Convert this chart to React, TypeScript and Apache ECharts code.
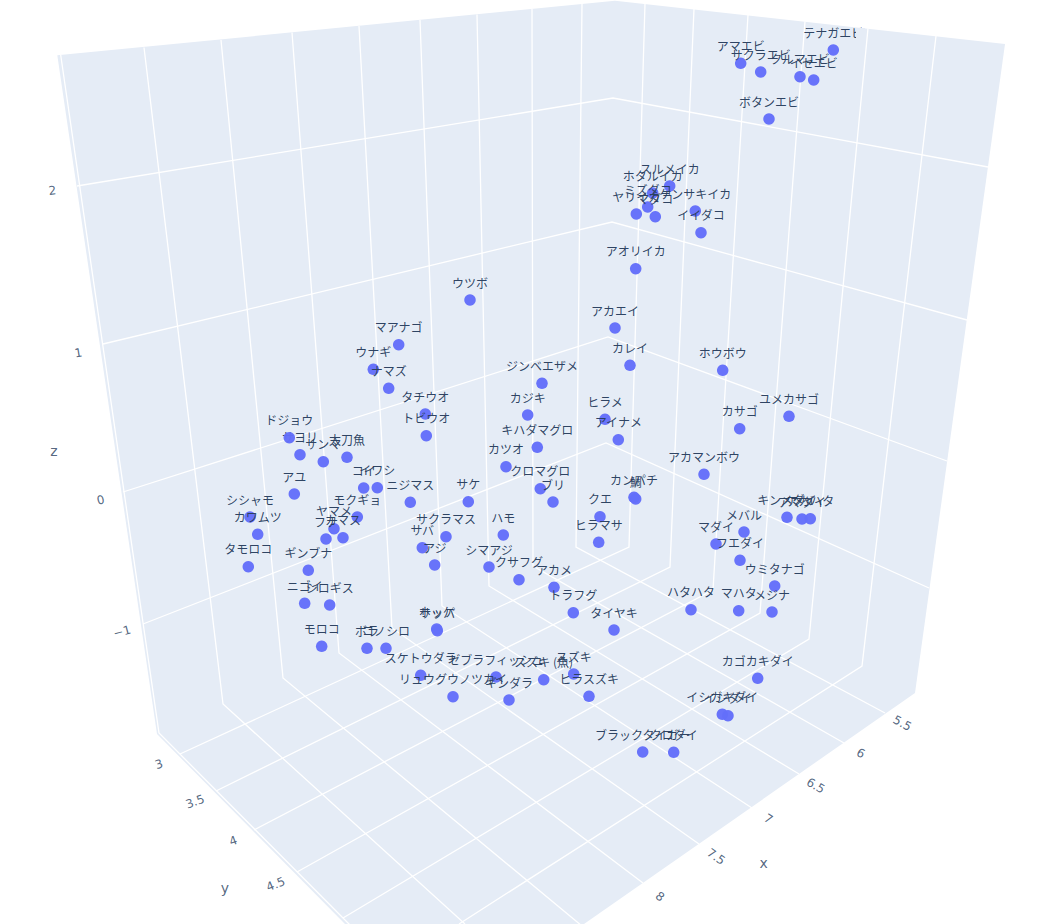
import React, { useEffect, useRef } from "react";
import * as echarts from "echarts";

// Values are the projected (screen-plane) positions.
const fishNames = [
  "テナガエビ", "アマエビ", "サクラエビ", "クルマエビ", "イセエビ", "ボタンエビ",
  "スルメイカ", "ホタルイカ", "ミズダコ", "ヤリイカ", "マダコ", "ケンサキイカ", "イイダコ", "アオリイカ",
  "アカエイ", "カレイ", "ホウボウ", "ジンベエザメ", "ウツボ", "マアナゴ", "ウナギ", "ナマズ", "タチウオ", "トビウオ",
  "ドジョウ", "サヨリ", "サンマ", "太刀魚", "アユ", "コイ", "イワシ", "ニジマス", "サケ", "モクギョ",
  "シシャモ", "カワムツ", "ヤマメ", "フナ", "カマス", "タモロコ", "ギンブナ", "ニゴイ", "シロギス",
  "サクラマス", "サバ", "アジ", "ハモ", "シマアジ", "カツオ", "カジキ", "キハダマグロ", "クロマグロ", "ブリ",
  "ヒラメ", "アイナメ", "カンパチ", "鯛", "クエ", "ヒラマサ", "アカマンボウ", "カサゴ", "ユメカサゴ",
  "キンメダイ", "アマダイ", "アカハタ", "メバル", "マダイ", "フエダイ", "ウミタナゴ", "ハタハタ", "マハタ", "メジナ",
  "アカメ", "クサフグ", "トラフグ", "タイヤキ", "カゴカキダイ", "スズキ", "スズキ (魚)", "ヒラスズキ", "ギンダラ",
  "ゼブラフィッシュ", "スケトウダラ", "リュウグウノツカイ", "モロコ", "ボラ", "コノシロ", "ホッケ", "サッパ",
  "イシガキダイ", "イシダイ", "ブラックタイガー", "クロダイ",
];
const fishX = [
  833.3, 740.7, 760.7, 800, 813.7, 769,
  669.7, 652.7, 647.7, 636.3, 655.3, 695.3, 701, 635.7,
  615, 630, 722.7, 542, 470, 398.7, 373.3, 388.7, 425.3, 426.3,
  289.3, 300, 323.3, 347, 294.3, 363.7, 377.3, 410.3, 468.3, 357.3,
  250, 257.7, 334, 326, 343, 248.3, 308.3, 304.7, 329.7,
  446, 422.3, 434.7, 503.3, 489, 506, 527.7, 537.3, 540.3, 553,
  605, 618.3, 634, 635.7, 600, 598.7, 704, 739.7, 789,
  787, 802, 810.3, 744, 716, 740, 774.7, 691, 738.7, 772,
  554, 519, 573.3, 614, 757.7, 573.7, 543.7, 589, 509,
  496, 420.7, 453, 321.7, 367, 386, 436.7, 437.3,
  722.3, 728, 642.7, 673.7,
];
const fishY = [
  50, 63.3, 72, 76.7, 80, 119,
  186, 193, 207, 214, 216.7, 211, 232.7, 268.7,
  328, 365.3, 370.3, 383.3, 300, 344.7, 369.3, 388.3, 414, 435.7,
  437.7, 454.7, 461.7, 457.3, 494, 488, 487.7, 502.3, 501.7, 517,
  517, 534.3, 528.7, 539, 537.7, 566.7, 570.3, 603.3, 605,
  536.7, 547.7, 565, 535, 567, 466.7, 415, 447.3, 488.7, 502,
  419.3, 439.7, 497.3, 499, 516.7, 542.3, 474.3, 428.7, 416.3,
  517.3, 519, 518.7, 532, 544, 560.3, 586, 609.7, 610.7, 612,
  587.3, 579.7, 612.7, 630, 678.3, 674, 679.7, 696.3, 700,
  677, 675.3, 696.7, 646.3, 648.3, 648.3, 629, 630.7,
  714.3, 715.7, 752, 752.3,
];
const frontFish = ["ドジョウ"];

const paneOutline = [
  [57.3, 55.3], [615, 0.8], [1005, 44], [915, 693], [584, 924], [345, 924], [157, 734],
];

// x gridlines: wall top, wall foot, floor end
const xGridLines = [
  [[582, 4], [576, 547], [885, 713]],
  [[532, 9], [533, 566], [844, 743]],
  [[477, 14.5], [489, 586], [799, 774]],
  [[420, 20], [442, 606], [752, 808]],
  [[359, 26], [392, 628], [699, 844]],
  [[292, 32.5], [339, 653], [643, 883]],
  [[221, 40], [283, 678], [582, 926]],
  [[144, 47.5], [223, 704], [465, 924]],
  [[60.7, 55], [159, 733], [350, 925]],
];
const yGridLines = [
  [[645, 3.4], [629, 547], [180, 754]],
  [[694, 8.9], [670, 567], [216, 791]],
  [[748, 15], [713, 590], [254, 830]],
  [[805, 21.4], [760, 613], [297, 872]],
  [[868, 28.4], [809, 639], [343, 918]],
  [[936, 36], [862, 666], [459, 924]],
];
const zGridLines = [
  [[77, 186], [613, 98], [988, 167]],
  [[103, 344], [612, 222], [967, 320]],
  [[123, 492], [608, 337], [947, 461]],
  [[143, 624], [606, 443], [929, 588]],
];

const xTickLabels = ["5.5", "6", "6.5", "7", "7.5", "8"];
const xTickPos = [[902.3, 723.3], [860.7, 753.3], [815.7, 785.7], [768.3, 819], [716, 856.7], [660, 896.7]];
const xTickRot = [-28, -28, -30, -32, -35, -37];
const yTickLabels = ["3", "3.5", "4", "4.5"];
const yTickPos = [[159, 764.3], [195, 801.7], [233.3, 841], [275.7, 884.3]];
const yTickRot = [18, 20, 20, 22];
const zTickLabels = ["2", "1", "0", "−1"];
const zTickPos = [[52.3, 190.6], [78.5, 353], [100.7, 500], [122, 631.7]];
const zTickRot = [6, 9, 12, 15];

const axisTitles = ["x", "y", "z"];
const axisTitlePos = [[763.7, 863.3], [225, 887.7], [54, 450.5]];

const PANE = "#E5ECF6";
const INK = "#2a3f5f";
const MARK = "#636efa";
const TEXT_FONT = '"Noto Sans CJK JP", "Noto Sans", sans-serif';
const TICK_FONT = '"DejaVu Sans", sans-serif';

function fishSeries(names: string[], z: number) {
  return {
    type: "scatter",
    z,
    symbol: "circle",
    symbolSize: 11.5,
    silent: true,
    itemStyle: { color: MARK, opacity: 0.97 },
    label: {
      show: true,
      position: "top",
      distance: 6,
      formatter: (p: any) => p.name,
      color: INK,
      fontSize: 12,
      fontFamily: TEXT_FONT,
    },
    data: fishNames
      .map((name, i) => ({ name, value: [fishX[i], fishY[i]] }))
      .filter((d) => names.includes(d.name)),
  };
}

function textSeries(labels: string[], pos: number[][], rot: number[] | null, size: number) {
  return {
    type: "scatter",
    z: 6,
    symbolSize: 1,
    silent: true,
    itemStyle: { color: "rgba(0,0,0,0)" },
    data: labels.map((name, i) => ({
      name,
      value: pos[i],
      label: { rotate: rot ? rot[i] : 0 },
    })),
    label: {
      show: true,
      position: "inside",
      align: "center",
      verticalAlign: "middle",
      formatter: (p: any) => p.name,
      color: INK,
      textBorderWidth: 0,
      fontSize: size,
      fontFamily: TICK_FONT,
    },
  };
}

export default function App() {
  const ref = useRef<HTMLDivElement>(null);
  useEffect(() => {
    const chart = echarts.init(ref.current!, null, { renderer: "svg" });
    const gridLines = [...xGridLines, ...yGridLines, ...zGridLines];
    const backFish = fishNames.filter((n) => !frontFish.includes(n));
    chart.setOption({
      animation: false,
      backgroundColor: "#fff",
      grid: { left: 0, right: 0, top: 0, bottom: 0, containLabel: false },
      xAxis: { type: "value", min: 0, max: 1038, show: false },
      yAxis: { type: "value", min: 0, max: 924, inverse: true, show: false },
      graphic: [
        {
          type: "rect",
          z: 100,
          shape: { x: 856, y: 28, width: 9, height: 13 },
          style: { fill: PANE },
          silent: true,
        },
      ],
      series: [
        {
          type: "custom",
          z: 1,
          silent: true,
          coordinateSystem: "cartesian2d",
          data: [0],
          renderItem: (_: any, api: any) => ({
            type: "polygon",
            shape: { points: paneOutline.map((p) => api.coord(p)) },
            style: { fill: PANE, stroke: "none" },
          }),
        },
        {
          type: "custom",
          z: 2,
          silent: true,
          coordinateSystem: "cartesian2d",
          data: gridLines.map((_, i) => i),
          renderItem: (params: any, api: any) => ({
            type: "polyline",
            shape: { points: gridLines[params.dataIndex].map((p) => api.coord(p)) },
            style: { fill: "none", stroke: "#fff", lineWidth: 1.3 },
          }),
        },
        fishSeries(backFish, 3),
        fishSeries(frontFish, 4),
        textSeries(xTickLabels, xTickPos, xTickRot, 12),
        textSeries(yTickLabels, yTickPos, yTickRot, 12),
        textSeries(zTickLabels, zTickPos, zTickRot, 12),
        textSeries(axisTitles, axisTitlePos, null, 14),
      ],
    });
    return () => chart.dispose();
  }, []);
  return <div ref={ref} style={{ position: "fixed", left: 0, top: 0, width: 1038, height: 924 }} />;
}
